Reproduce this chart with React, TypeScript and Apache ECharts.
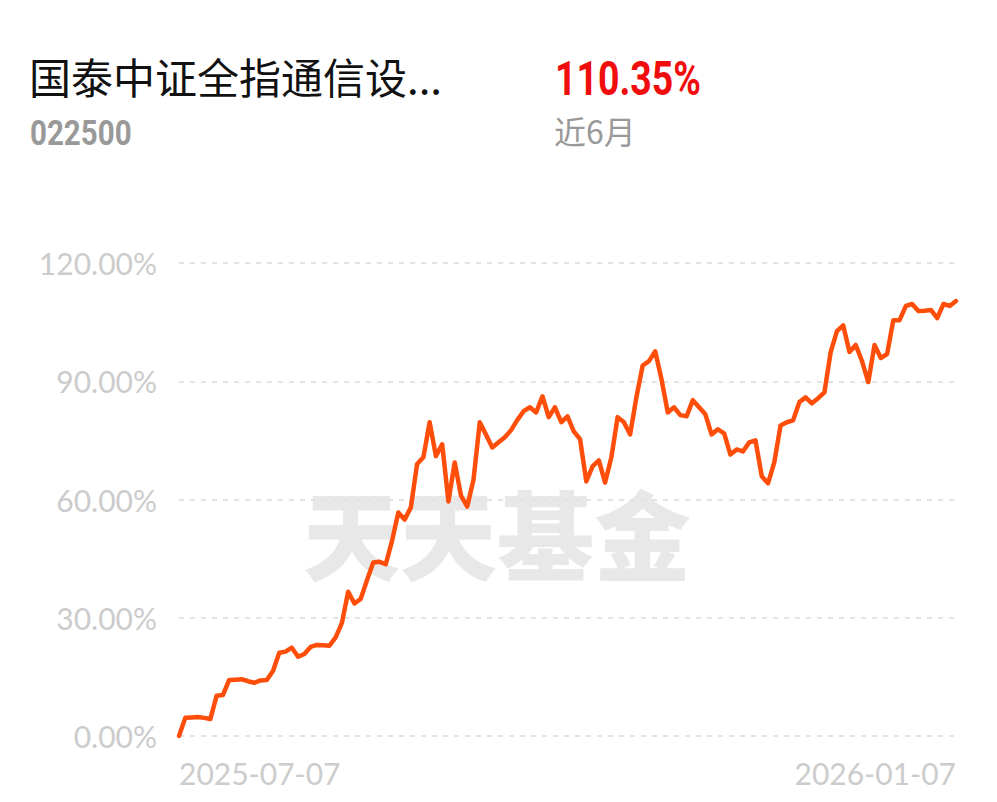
import React, { useEffect, useRef } from "react";
import * as echarts from "echarts";

const fundName = "国泰中证全指通信设...";
const fundCode = "022500";
const returnText = "110.35%";
const periodText = "近6月";
const watermark = "天天基金";
const xLabels = ["2025-07-07", "2026-01-07"];
const yTicks = [0, 30, 60, 90, 120];

const values = [
  0, 4.6, 4.7, 4.8, 4.6, 4.3, 10.2, 10.4, 14.2, 14.3,
  14.4, 13.9, 13.5, 14.1, 14.2, 16.5, 21.1, 21.4, 22.4, 20.1,
  20.8, 22.6, 23.1, 23.0, 22.9, 25.0, 28.7, 36.6, 33.6, 34.8,
  39.5, 44.0, 44.2, 43.6, 49.5, 56.7, 54.9, 58.0, 69.0, 70.7,
  79.6, 71.0, 74.0, 59.5, 69.4, 61.0, 58.2, 65.0, 79.6, 76.4,
  73.2, 74.5, 75.8, 77.6, 80.2, 82.4, 83.4, 82.1, 86.2, 80.9,
  83.4, 79.6, 81.1, 77.3, 75.3, 64.6, 68.4, 69.9, 64.3, 70.7,
  80.9, 79.6, 76.5, 86.0, 94.0, 95.1, 97.6, 90.5, 82.1, 83.4,
  81.4, 81.1, 85.2, 83.4, 81.6, 76.5, 77.8, 76.8, 71.4, 72.7,
  72.2, 74.5, 75.0, 65.9, 64.1, 69.4, 78.8, 79.6, 80.1, 84.7,
  85.9, 84.4, 85.7, 87.2, 97.4, 102.7, 104.2, 97.4, 99.2, 95.1,
  89.8, 99.2, 95.9, 96.9, 105.5, 105.5, 109.1, 109.6, 107.8, 107.9,
  108.1, 106.0, 109.6, 109.1, 110.35,
];

export default function App() {
  const ref = useRef<HTMLDivElement>(null);
  useEffect(() => {
    if (!ref.current) return;
    const chart = echarts.init(ref.current, undefined, { renderer: "svg" });
    const cats = values.map((_, i) => String(i));
    const last = values.length - 1;
    chart.setOption({
      animation: false,
      backgroundColor: "#ffffff",
      grid: { left: 179, right: 41, top: 263, bottom: 66 },
      graphic: [
        {
          type: "text",
          left: 29,
          top: 54,
          z: 10,
          style: {
            text: fundName,
            fill: "#111111",
            font: '400 42px "Noto Sans CJK SC", sans-serif',
          },
        },
        {
          type: "text",
          x: 30,
          y: 114,
          scaleX: 0.82,
          z: 10,
          style: {
            text: fundCode,
            fill: "#999999",
            font: '700 36px Roboto, "Noto Sans", sans-serif',
          },
        },
        {
          type: "text",
          x: 555,
          y: 55,
          scaleX: 0.78,
          z: 10,
          style: {
            text: returnText,
            fill: "#f00d0d",
            font: '700 48px Roboto, "Noto Sans", sans-serif',
          },
        },
        {
          type: "text",
          left: 554,
          top: 114,
          z: 10,
          style: {
            text: periodText,
            fill: "#999999",
            font: '400 32px "Noto Sans CJK SC", sans-serif',
          },
        },
        {
          type: "text",
          left: 303,
          top: 482,
          z: -1,
          style: {
            text: watermark,
            fill: "#e8e8e8",
            font: '900 97px "Noto Sans CJK SC", sans-serif',
          },
        },
      ],
      xAxis: {
        type: "category",
        data: cats,
        boundaryGap: false,
        axisLine: { show: false },
        axisTick: { show: false },
        splitLine: { show: false },
        axisLabel: {
          interval: (index: number) => index === 0 || index === last,
          formatter: (_v: string, index: number) =>
            index === 0 ? xLabels[0] : index === last ? xLabels[1] : "",
          alignMinLabel: "left",
          alignMaxLabel: "right",
          color: "#cccccc",
          fontSize: 30,
          fontFamily: "Lato, Roboto, sans-serif",
          fontWeight: 400,
          margin: 22,
        },
      },
      yAxis: {
        type: "value",
        min: yTicks[0],
        max: yTicks[yTicks.length - 1],
        interval: 30,
        axisLine: { show: false },
        axisTick: { show: false },
        axisLabel: {
          formatter: (v: number) => v.toFixed(2) + "%",
          color: "#cccccc",
          fontSize: 30,
          fontFamily: "Lato, Roboto, sans-serif",
          fontWeight: 400,
          margin: 22,
        },
        splitLine: {
          show: true,
          lineStyle: { color: "#e3e3e3", width: 2, type: [5, 6] },
        },
      },
      series: [
        {
          type: "line",
          data: values,
          showSymbol: false,
          symbol: "none",
          lineStyle: { color: "#ff4d0a", width: 4.5, join: "round", cap: "round" },
          z: 5,
        },
      ],
    });
    return () => chart.dispose();
  }, []);
  return (
    <div
      ref={ref}
      style={{ position: "fixed", left: 0, top: 0, width: 997, height: 802, background: "#fff" }}
    />
  );
}
